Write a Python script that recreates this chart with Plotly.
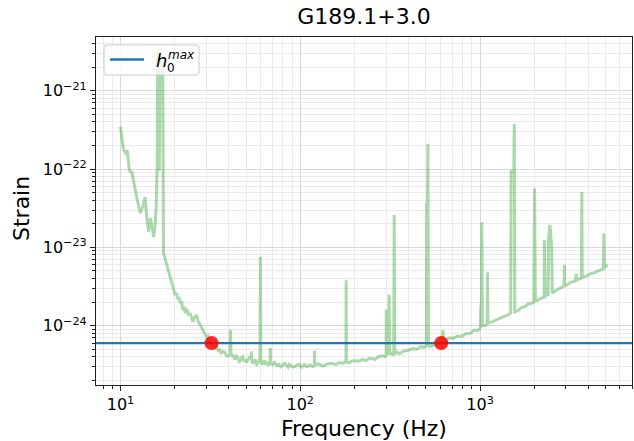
import math
import plotly.graph_objects as go

# Sensitivity curve, split by band: frequency (Hz) and strain amplitude
freq_low = [
    10.0, 10.2, 10.4, 10.7, 10.9, 11.2, 11.6, 11.9, 12.2, 12.6, 12.9, 13.3, 13.7,
    14.0, 14.35, 14.65, 15.0, 15.3, 15.6, 15.8, 16.0, 16.1, 16.3, 16.45, 16.6,
    16.8, 17.0, 17.2, 17.35, 17.7, 18.1, 18.4, 18.7, 19.0, 19.3, 19.7,
]
strain_low = [
    3.5e-22, 2.6e-22, 1.75e-22, 1.6e-22, 1.75e-22, 9.7e-23, 8.9e-23, 6.5e-23,
    4.7e-23, 3.4e-23, 2.75e-23, 3.3e-23, 4.4e-23, 2.4e-23, 1.58e-23, 2.37e-23,
    1.8e-23, 1.36e-23, 2.0e-23, 3.3e-23, 1.07e-22, 2.9e-21, 1.3e-21, 9.5e-23,
    1.8e-21, 3.0e-21, 1.1e-21, 2.4e-21, 8.5e-24, 7.2e-24, 6.3e-24, 5.6e-24,
    4.6e-24, 4.2e-24, 3.6e-24, 3.0e-24,
]

freq_knee = [
    20.1, 20.5, 20.8, 21.2, 21.5, 21.9, 22.2, 22.6, 22.9, 23.3, 23.6, 24.0, 24.4,
    24.8, 25.3, 25.7, 26.0, 26.5, 27.0, 27.6, 28.1, 28.7, 29.3, 30.1, 30.6, 31.0,
    31.6, 32.1, 32.7, 33.2, 33.7, 34.2, 35.0, 35.7, 36.3, 37.0, 38.0, 38.7, 39.5,
    40.6, 40.9, 41.2,
]
strain_knee = [
    2.47e-24, 2.6e-24, 2.2e-24, 2.3e-24, 1.95e-24, 2.05e-24, 1.6e-24, 1.75e-24,
    1.45e-24, 1.6e-24, 1.55e-24, 1.35e-24, 1.45e-24, 1.25e-24, 1.12e-24,
    1.25e-24, 1.3e-24, 1.38e-24, 1.15e-24, 1.05e-24, 9.5e-25, 8.8e-25, 8.2e-25,
    7.2e-25, 7.4e-25, 6.6e-25, 6.3e-25, 6.0e-25, 5.9e-25, 5.6e-25, 5.2e-25,
    5.4e-25, 4.8e-25, 4.9e-25, 4.5e-25, 4.7e-25, 4.6e-25, 4.2e-25, 4.1e-25,
    4.2e-25, 8.8e-25, 4.2e-25,
]

freq_bucket = [
    42.2, 43.0, 43.5, 44.2, 45.0, 45.8, 46.5, 47.2, 47.9, 48.7, 49.5, 50.2, 51.0,
    52.0, 53.2, 53.5, 53.8, 54.4, 55.0, 55.8, 56.5, 57.2, 58.0, 58.9, 59.7, 60.0,
    60.3, 61.5, 62.8, 63.9, 65.0, 66.5, 67.9, 68.2, 68.5, 70.0, 72.0, 74.0, 76.0,
    78.0, 80.0, 82.0, 84.0, 85.5, 87.0, 90.0, 93.0, 96.0, 99.0, 101.5, 104.0,
    106.0, 108.5, 111.0, 114.0, 117.0, 119.6, 120.0, 120.4, 124.0, 128.0, 133.0,
    138.0, 144.0, 151.0, 158.0, 165.0, 172.0, 179.4, 180.0, 180.6, 186.0, 192.0,
    200.0, 210.0, 221.0, 233.0, 241.0, 250.0, 260.0, 270.0, 280.0, 290.0, 296.0,
]
strain_bucket = [
    4.2e-25, 3.8e-25, 3.8e-25, 4.1e-25, 3.9e-25, 3.5e-25, 3.6e-25, 3.9e-25,
    4.0e-25, 3.5e-25, 3.7e-25, 3.4e-25, 3.6e-25, 3.9e-25, 3.8e-25, 4.7e-25,
    3.6e-25, 3.3e-25, 3.4e-25, 3.7e-25, 3.5e-25, 3.2e-25, 3.3e-25, 3.6e-25,
    3.5e-25, 7.6e-24, 3.5e-25, 3.2e-25, 3.6e-25, 3.3e-25, 3.4e-25, 3.1e-25,
    3.5e-25, 5.2e-25, 3.4e-25, 3.2e-25, 3.4e-25, 3.1e-25, 3.2e-25, 3.0e-25,
    3.2e-25, 3.3e-25, 3.1e-25, 2.95e-25, 3.2e-25, 3.0e-25, 3.0e-25, 3.15e-25,
    3.2e-25, 2.95e-25, 3.1e-25, 3.2e-25, 3.0e-25, 3.1e-25, 3.15e-25, 3.0e-25,
    3.1e-25, 4.8e-25, 3.1e-25, 3.25e-25, 3.2e-25, 3.05e-25, 3.15e-25, 3.3e-25,
    3.3e-25, 3.2e-25, 3.4e-25, 3.3e-25, 3.45e-25, 3.8e-24, 3.45e-25, 3.35e-25,
    3.5e-25, 3.6e-25, 3.5e-25, 3.7e-25, 3.6e-25, 3.8e-25, 3.8e-25, 3.7e-25,
    3.97e-25, 4.1e-25, 4.1e-25, 4.0e-25,
]

freq_mid = [
    300.0, 301.0, 303.0, 307.0, 310.0, 312.0, 314.0, 320.0, 326.0, 331.0, 333.0,
    335.0, 345.0, 357.0, 372.0, 390.0, 405.0, 424.0, 445.0, 470.0, 490.0, 503.0,
    505.0, 510.0, 513.0, 516.0, 530.0, 547.0, 565.0, 580.0, 595.0, 608.0,
]
strain_mid = [
    4.2e-25, 1.6e-24, 4.2e-25, 4.5e-25, 4.3e-25, 2.5e-24, 4.3e-25, 4.5e-25,
    4.3e-25, 4.3e-25, 2.6e-23, 4.4e-25, 4.6e-25, 4.4e-25, 4.7e-25, 4.8e-25,
    4.9e-25, 5.1e-25, 5.0e-25, 5.4e-25, 5.3e-25, 5.5e-25, 3.5e-23, 3.5e-23,
    2.1e-22, 5.6e-25, 5.4e-25, 5.6e-25, 5.9e-25, 5.8e-25, 5.9e-25, 6.0e-25,
]

freq_high = [
    615, 621, 627, 650, 675, 710, 750, 790, 837, 880, 930, 970, 1005, 1010, 1015,
    1023, 1030, 1060, 1095, 1100, 1106, 1150, 1200, 1240, 1283, 1340, 1400, 1440,
    1480, 1490, 1540, 1550, 1560, 1620, 1700, 1780, 1850, 1920, 1990, 2000, 2010,
    2030, 2090, 2150, 2210, 2270, 2280, 2300, 2350, 2390, 2400, 2450, 2500, 2520,
    2600, 2700, 2810, 2930, 2945, 2960, 3080, 3200, 3300, 3400, 3420, 3440, 3550,
    3660, 3680, 3700, 3900, 4100, 4350, 4600, 4850, 4880, 4910, 5000, 5100,
]
strain_high = [
    6.3e-25, 8.8e-25, 6.4e-25, 6.6e-25, 7.0e-25, 6.9e-25, 7.4e-25, 7.3e-25,
    7.9e-25, 8.0e-25, 8.8e-25, 8.6e-25, 9.6e-25, 1.8e-24, 1.0e-24, 2.1e-23,
    1.0e-24, 1.0e-24, 1.05e-24, 4.8e-24, 1.07e-24, 1.1e-24, 1.15e-24, 1.2e-24,
    1.24e-24, 1.28e-24, 1.35e-24, 1.38e-24, 1.45e-24, 9.3e-23, 9.3e-23, 3.76e-22,
    1.5e-24, 1.55e-24, 1.7e-24, 1.75e-24, 1.9e-24, 1.9e-24, 2.0e-24, 7.0e-24,
    5.7e-23, 2.1e-24, 2.1e-24, 2.2e-24, 2.25e-24, 2.3e-24, 1.24e-23, 2.4e-24,
    2.45e-24, 2.5e-24, 1.3e-23, 1.93e-23, 1.0e-23, 2.6e-24, 2.75e-24, 2.9e-24,
    3.0e-24, 3.2e-24, 6.0e-24, 3.2e-24, 3.4e-24, 3.6e-24, 3.65e-24, 3.8e-24,
    4.6e-24, 3.8e-24, 3.95e-24, 4.1e-24, 5.1e-23, 4.1e-24, 4.3e-24, 4.6e-24,
    4.8e-24, 5.1e-24, 5.3e-24, 1.5e-23, 5.4e-24, 6.0e-24, 5.6e-24,
]

freq_hz = freq_low + freq_knee + freq_bucket + freq_mid + freq_high
strain = strain_low + strain_knee + strain_bucket + strain_mid + strain_high
assert len(freq_hz) == len(strain)

# Upper limit on intrinsic strain and where the curve crosses it
h0_max = 6.0e-25
cross_freq_hz = [32.1, 608.0]
cross_strain = [h0_max, h0_max]

title_text = "G189.1+3.0"
x_label = "Frequency (Hz)"
y_label = "Strain"
x_tick_vals = [10, 100, 1000]
x_tick_text = ["10<sup>1</sup>", "10<sup>2</sup>", "10<sup>3</sup>"]
y_tick_vals = [1e-24, 1e-23, 1e-22, 1e-21]
y_tick_text = ["10<sup>\u221224</sup>", "10<sup>\u221223</sup>",
               "10<sup>\u221222</sup>", "10<sup>\u221221</sup>"]

# ---- layout geometry -------------------------------------------------------
W, H = 634, 441
ML, MR, MT, MB = 96, 2, 37, 56
PW, PH = W - ML - MR, H - MT - MB
x_range = [0.864, 3.845]          # log10 Hz
y_range = [-24.757, -20.314]      # log10 strain


def px_x(px):
    return (px - ML) / PW


def px_y(py):
    return (H - MB - py) / PH


def minor_vals(lo_exp, hi_exp):
    vals = []
    for e in range(lo_exp, hi_exp + 1):
        for m in range(2, 10):
            vals.append(m * 10.0 ** e)
    return vals


FONT = "DejaVu Sans"
green = "rgba(44,160,44,0.4)"
blue = "#1f77b4"

fig = go.Figure()

fig.add_trace(go.Scatter(
    x=freq_hz, y=strain, mode="lines",
    line=dict(color=green, width=3), showlegend=False, hoverinfo="skip",
))

fig.add_trace(go.Scatter(
    x=[10 ** x_range[0], 10 ** x_range[1]], y=[h0_max, h0_max], mode="lines",
    line=dict(color=blue, width=2.3), showlegend=False, hoverinfo="skip",
))

fig.add_trace(go.Scatter(
    x=cross_freq_hz, y=cross_strain, mode="markers",
    marker=dict(color="rgba(255,0,0,0.85)", size=14, line=dict(width=0)),
    showlegend=False, hoverinfo="skip",
))

axis_common = dict(
    type="log", showline=True, mirror=True, linecolor="#222", linewidth=1.2,
    ticks="outside", ticklen=5, tickwidth=1, tickcolor="#222",
    showgrid=True, gridcolor="#d9d9d9", gridwidth=1, zeroline=False,
    tickfont=dict(family=FONT, size=16, color="black"),
    tickmode="array",
)

fig.update_xaxes(
    **axis_common, range=x_range, tickvals=x_tick_vals, ticktext=x_tick_text,
    minor=dict(tickmode="array", tickvals=minor_vals(0, 3), ticks="outside",
               ticklen=3, tickcolor="#222", showgrid=True,
               gridcolor="#ebebeb", gridwidth=1),
)
fig.update_yaxes(
    **axis_common, range=y_range, tickvals=y_tick_vals, ticktext=y_tick_text,
    minor=dict(tickmode="array", tickvals=minor_vals(-25, -21), ticks="outside",
               ticklen=3, tickcolor="#222", showgrid=True,
               gridcolor="#ebebeb", gridwidth=1),
)

# Legend drawn by hand so the sub/superscript on h can stack
lx0, lx1, ly0, ly1 = px_x(104), px_x(199), px_y(75), px_y(45)
rx, ry = 3 / PW, 3 / PH
legend_path = (
    f"M {lx0+rx},{ly0} L {lx1-rx},{ly0} Q {lx1},{ly0} {lx1},{ly0+ry} "
    f"L {lx1},{ly1-ry} Q {lx1},{ly1} {lx1-rx},{ly1} "
    f"L {lx0+rx},{ly1} Q {lx0},{ly1} {lx0},{ly1-ry} "
    f"L {lx0},{ly0+ry} Q {lx0},{ly0} {lx0+rx},{ly0} Z"
)
fig.add_shape(type="path", path=legend_path, xref="paper", yref="paper",
              line=dict(color="#cccccc", width=1),
              fillcolor="rgba(255,255,255,0.8)", layer="above")
fig.add_shape(type="line", xref="paper", yref="paper",
              x0=px_x(110), x1=px_x(144), y0=px_y(59.5), y1=px_y(59.5),
              line=dict(color=blue, width=2.3), layer="above")

annotations = [
    dict(text="<i>h</i>", x=px_x(154), y=px_y(60), xanchor="left",
         yanchor="middle", font=dict(family=FONT, size=18, color="black")),
    dict(text="0", x=px_x(165), y=px_y(68), xanchor="left",
         yanchor="middle", font=dict(family=FONT, size=12, color="black")),
    dict(text="<i>max</i>", x=px_x(165.5), y=px_y(55.5), xanchor="left",
         yanchor="middle", font=dict(family=FONT, size=12, color="black")),
    dict(text=x_label, x=0.5, y=px_y(428), xanchor="center", yanchor="middle",
         font=dict(family=FONT, size=22, color="black")),
    dict(text=y_label, x=px_x(22), y=px_y(209), xanchor="center",
         yanchor="middle", textangle=-90,
         font=dict(family=FONT, size=22, color="black")),
]
for a in annotations:
    a.update(xref="paper", yref="paper", showarrow=False)
fig.update_layout(annotations=annotations)

fig.update_layout(
    width=W, height=H,
    margin=dict(l=ML, r=MR, t=MT, b=MB, pad=0),
    paper_bgcolor="white", plot_bgcolor="white",
    title=dict(text=title_text, x=px_x(364), xref="paper", xanchor="center",
               y=1 - 16 / H, yref="container", yanchor="middle",
               font=dict(family=FONT, size=22, color="black")),
    showlegend=False,
)

fig.write_html("out.html")
